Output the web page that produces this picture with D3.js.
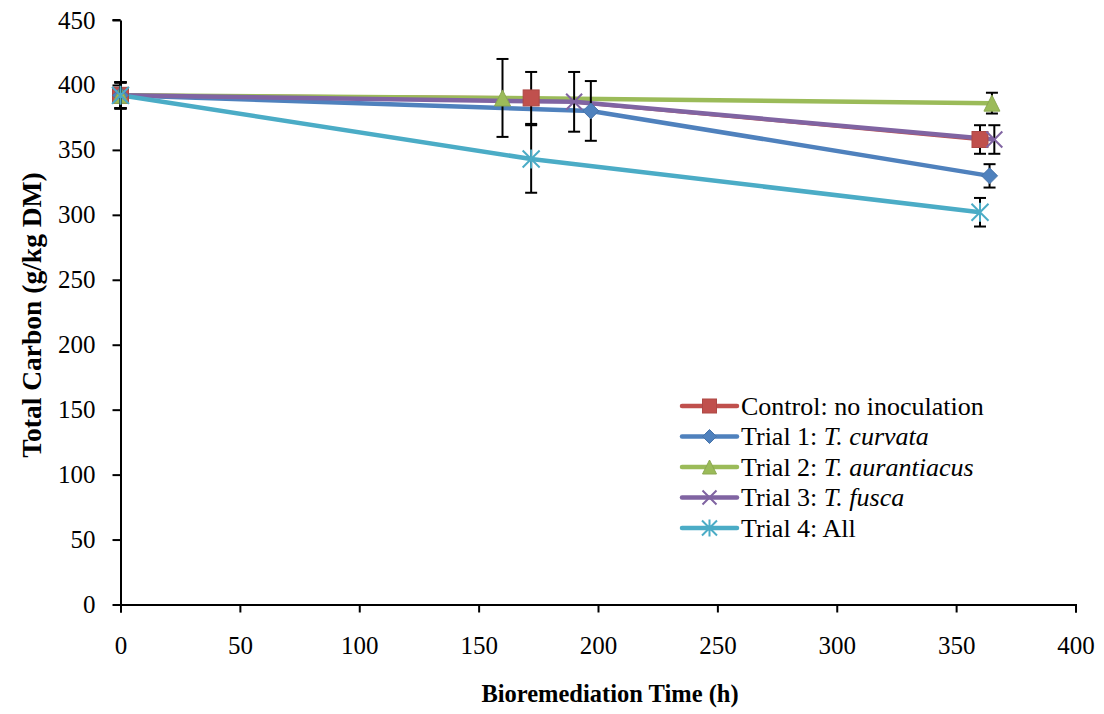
<!DOCTYPE html>
<html>
<head>
<meta charset="utf-8">
<script src="https://cdn.jsdelivr.net/npm/d3@7"></script>
<style>
  body { margin: 0; background: #fff; }
  svg { display: block; font-family: "Liberation Serif", "Times New Roman", serif; }
</style>
</head>
<body>
<div id="chart"></div>
<script>
// --- data ---
const seriesNames = ["Control", "Trial 1", "Trial 2", "Trial 3", "Trial 4"];
const labelPlain = ["Control: no inoculation", "Trial 1: ", "Trial 2: ", "Trial 3: ", "Trial 4: All"];
const labelItalic = ["", "T. curvata", "T. aurantiacus", "T. fusca", ""];
const colors = ["#C0504D", "#4F81BD", "#9BBB59", "#8064A2", "#4BACC6"];
const markers = ["square", "diamond", "triangle", "x", "star"];

const controlTime = [0, 172, 360];
const controlTC = [392, 390, 358];
const controlErr = [10, 20, 11];

const trial1Time = [0, 197, 364];
const trial1TC = [392, 380, 330];
const trial1Err = [10, 23, 9];

const trial2Time = [0, 160, 365];
const trial2TC = [392, 390, 386];
const trial2Err = [10, 30, 8];

const trial3Time = [0, 190, 366];
const trial3TC = [392, 387, 358];
const trial3Err = [10, 23, 11];

const trial4Time = [0, 172, 360];
const trial4TC = [392, 343, 302];
const trial4Err = [10, 26, 11];

const xTicks = [0, 50, 100, 150, 200, 250, 300, 350, 400];
const yTicks = [0, 50, 100, 150, 200, 250, 300, 350, 400, 450];

const allTimes = [controlTime, trial1Time, trial2Time, trial3Time, trial4Time];
const allTC = [controlTC, trial1TC, trial2TC, trial3TC, trial4TC];
const allErr = [controlErr, trial1Err, trial2Err, trial3Err, trial4Err];

const data = seriesNames.map((name, i) => ({
    name,
    color: colors[i],
    marker: markers[i],
    points: allTimes[i].map((t, j) => ({ t, v: allTC[i][j], e: allErr[i][j] }))
}));

// --- layout ---
const width = 1104, height = 714;
const marginLeft = 120.5, marginRight = 28.5, marginTop = 20, marginBottom = 109.5;

const x = d3.scaleLinear().domain([0, 400]).range([marginLeft, width - marginRight]);
const y = d3.scaleLinear().domain([0, 450]).range([height - marginBottom, marginTop]);

const svg = d3.select("#chart").append("svg")
    .attr("width", width)
    .attr("height", height);

svg.append("rect").attr("width", width).attr("height", height).attr("fill", "#fff");

// axes
const xAxis = svg.append("g")
    .attr("transform", `translate(0,${y(0)})`)
    .call(d3.axisBottom(x).tickValues(xTicks).tickSize(8).tickSizeOuter(8).tickPadding(24));
const yAxis = svg.append("g")
    .attr("transform", `translate(${x(0)},0)`)
    .call(d3.axisLeft(y).tickValues(yTicks).tickSize(8).tickSizeOuter(0).tickPadding(17));

[xAxis, yAxis].forEach(g => {
    g.select(".domain").attr("stroke", "#000").attr("stroke-width", 2);
    g.selectAll(".tick line").attr("stroke", "#000").attr("stroke-width", 2);
    g.selectAll("text").attr("font-family", "Liberation Serif").attr("font-size", 25).attr("fill", "#000");
});
// top line of the y axis extends left like a tick
svg.append("line")
    .attr("x1", x(0) - 8).attr("x2", x(0))
    .attr("y1", y(450)).attr("y2", y(450))
    .attr("stroke", "#000").attr("stroke-width", 2);

// axis titles
svg.append("text")
    .attr("x", (x(0) + x(400)) / 2 + 12)
    .attr("y", 702)
    .attr("text-anchor", "middle")
    .attr("font-weight", "bold")
    .attr("font-size", 24.5)
    .text("Bioremediation Time (h)");

svg.append("text")
    .attr("transform", `translate(41,315) rotate(-90)`)
    .attr("text-anchor", "middle")
    .attr("font-weight", "bold")
    .attr("font-size", 27.5)
    .text("Total Carbon (g/kg DM)");

// marker drawing helper
function drawMarker(g, type, color, cx, cy, s) {
    const h = s / 2;
    if (type === "square") {
        g.append("rect").attr("x", cx - h).attr("y", cy - h).attr("width", s).attr("height", s)
            .attr("fill", color).attr("stroke", d3.color(color).darker(0.3)).attr("stroke-width", 1);
    } else if (type === "diamond") {
        g.append("path").attr("d", `M${cx},${cy - h}L${cx + h},${cy}L${cx},${cy + h}L${cx - h},${cy}Z`)
            .attr("fill", color).attr("stroke", d3.color(color).darker(0.3)).attr("stroke-width", 1);
    } else if (type === "triangle") {
        g.append("path").attr("d", `M${cx},${cy - h}L${cx + h},${cy + h}L${cx - h},${cy + h}Z`)
            .attr("fill", color).attr("stroke", d3.color(color).darker(0.3)).attr("stroke-width", 1);
    } else if (type === "x") {
        g.append("path").attr("d", `M${cx - h},${cy - h}L${cx + h},${cy + h}M${cx - h},${cy + h}L${cx + h},${cy - h}`)
            .attr("stroke", color).attr("stroke-width", 2).attr("fill", "none");
    } else if (type === "star") {
        g.append("path").attr("d", `M${cx - h},${cy - h}L${cx + h},${cy + h}M${cx - h},${cy + h}L${cx + h},${cy - h}M${cx},${cy - h - 1}L${cx},${cy + h + 1}`)
            .attr("stroke", color).attr("stroke-width", 2).attr("fill", "none");
    }
}

const line = d3.line().x(d => x(d.t)).y(d => y(d.v));

// lines
const linesG = svg.append("g");
data.forEach(s => {
    linesG.append("path")
        .datum(s.points)
        .attr("d", line)
        .attr("fill", "none")
        .attr("stroke", s.color)
        .attr("stroke-width", s.name === "Control" ? 3.5 : 4.5)
        .attr("stroke-linejoin", "round");
});

// error bars + markers
const capW = 6;
data.forEach(s => {
    const g = svg.append("g");
    s.points.forEach(p => {
        const cx = x(p.t);
        g.append("line").attr("x1", cx).attr("x2", cx).attr("y1", y(p.v - p.e)).attr("y2", y(p.v + p.e))
            .attr("stroke", "#000").attr("stroke-width", 2);
        [p.v - p.e, p.v + p.e].forEach(v => {
            g.append("line").attr("x1", cx - capW).attr("x2", cx + capW).attr("y1", y(v)).attr("y2", y(v))
                .attr("stroke", "#000").attr("stroke-width", 2);
        });
    });
    s.points.forEach(p => drawMarker(g, s.marker, s.color, x(p.t), y(p.v), s.marker === "star" ? 17 : 16));
});

// legend
const legend = svg.append("g");
const legX1 = 682, legX2 = 737, legY0 = 406, legDy = 30.5;
data.forEach((s, i) => {
    const ly = legY0 + i * legDy;
    legend.append("line").attr("x1", legX1).attr("x2", legX2).attr("y1", ly).attr("y2", ly)
        .attr("stroke", s.color).attr("stroke-width", 4.5).attr("stroke-linecap", "round");
    drawMarker(legend, s.marker, s.color, (legX1 + legX2) / 2, ly, s.marker === "star" ? 15 : 14);
    const t = legend.append("text").attr("x", 741).attr("y", ly + 8.5).attr("font-size", 26).attr("fill", "#000");
    t.append("tspan").text(labelPlain[i]);
    if (labelItalic[i]) t.append("tspan").attr("font-style", "italic").text(labelItalic[i]);
});
</script>
</body>
</html>
